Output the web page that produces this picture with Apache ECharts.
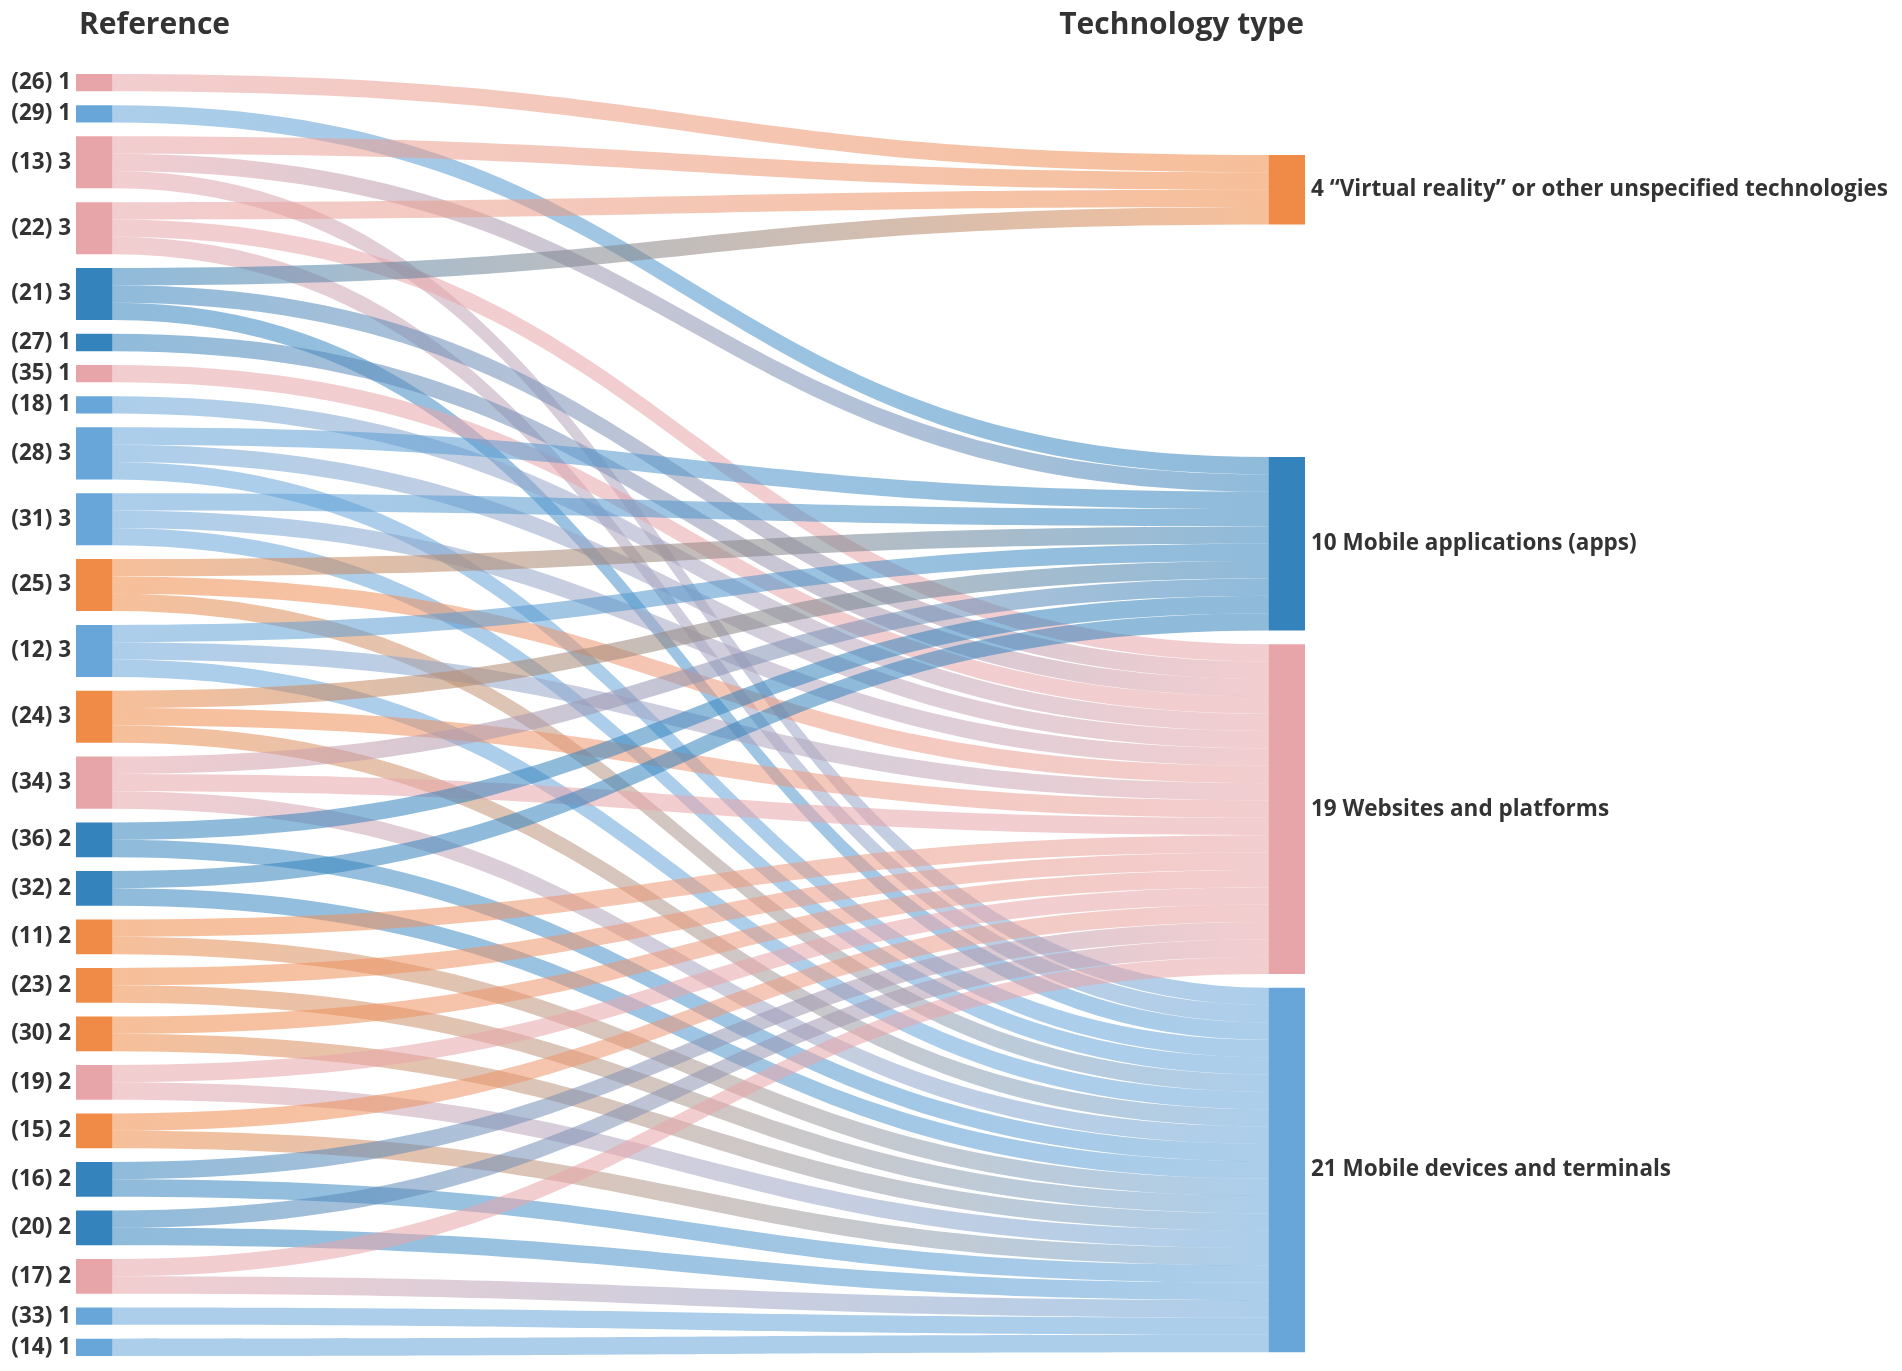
<!DOCTYPE html>
<html>
<head>
<meta charset="utf-8">
<script src="https://cdn.jsdelivr.net/npm/echarts@6/dist/echarts.min.js"></script>
<style>
  html, body { margin: 0; padding: 0; background: #ffffff; }
  #chart { width: 1902px; height: 1371px; }
</style>
</head>
<body>
<div id="chart"></div>
<script>
// ---------- DATA ----------
const referenceIds = ['(26)','(29)','(13)','(22)','(21)','(27)','(35)','(18)','(28)','(31)','(25)','(12)','(24)','(34)','(36)','(32)','(11)','(23)','(30)','(19)','(15)','(16)','(20)','(17)','(33)','(14)'];
// indices into techTypes; each reference contributes 1 to each listed technology type
const referenceTargets = [
  [0], [1], [0,1,3], [0,2,3], [0,2,3], [2], [2], [2],
  [1,2,3], [1,2,3], [1,2,3], [1,2,3], [1,2,3], [1,2,3],
  [1,3], [1,3], [2,3], [2,3], [2,3], [2,3], [2,3], [2,3], [2,3], [2,3],
  [3], [3]
];
const referenceColorGroup = ['pink','lightBlue','pink','pink','darkBlue','darkBlue','pink','lightBlue','lightBlue','lightBlue','orange','lightBlue','orange','pink','darkBlue','darkBlue','orange','orange','orange','pink','orange','darkBlue','darkBlue','pink','lightBlue','lightBlue'];
const techTypes = ['“Virtual reality” or other unspecified technologies','Mobile applications (apps)','Websites and platforms','Mobile devices and terminals'];
const techColorGroup = ['orange','darkBlue','pink','lightBlue'];
const leftTitle = 'Reference';
const rightTitle = 'Technology type';

// ---------- STYLE ----------
const palette = { orange:'#f08b47', darkBlue:'#3483bd', lightBlue:'#68a6da', pink:'#e8a5a9' };
const FONT = '"Open Sans", Roboto, sans-serif';
const TEXT = '#333333';

// layout constants (pixels)
const L = 76, T = 74, R = 1902 - 1305, B = 15, GAP = 13.8, NODE_W = 36.5;
const H = 1371 - T - B;
const totalUnits = referenceTargets.reduce((s, a) => s + a.length, 0);
const ky = (H - (referenceIds.length - 1) * GAP) / totalUnits;
// invisible spacers in the right column to reproduce reference node placement
const vrTopPx = 155, appsTopPx = 457;
const spacerTop = (vrTopPx - T - GAP) / ky;
const techCounts = techTypes.map((_, ti) => referenceTargets.filter(a => a.includes(ti)).length);
const spacerMid = (appsTopPx - GAP - (vrTopPx + techCounts[0] * ky) - GAP) / ky;

const nodes = [];
const links = [];
referenceIds.forEach((id, i) => {
  nodes.push({
    name: id,
    depth: 0,
    itemStyle: { color: palette[referenceColorGroup[i]] },
    label: { position: 'left', distance: 5, formatter: id + ' ' + referenceTargets[i].length }
  });
  referenceTargets[i].forEach(t => links.push({ source: id, target: techTypes[t], value: 1 }));
});
const spacer = (name, v) => ({
  name, depth: 1, value: v,
  itemStyle: { color: 'rgba(0,0,0,0)', opacity: 0 },
  label: { show: false }, tooltip: { show: false }
});
nodes.push(spacer('__spacerTop', spacerTop));
techTypes.forEach((t, ti) => {
  nodes.push({
    name: t,
    depth: 1,
    itemStyle: { color: palette[techColorGroup[ti]] },
    label: { position: 'right', distance: 6, formatter: techCounts[ti] + ' ' + t }
  });
  if (ti === 0) nodes.push(spacer('__spacerMid', spacerMid));
});

const chart = echarts.init(document.getElementById('chart'), null, { renderer: 'canvas' });
chart.setOption({
  animation: false,
  backgroundColor: '#ffffff',
  title: [
    { text: leftTitle, left: 79, top: 10, padding: 0, textStyle: { fontFamily: FONT, fontSize: 30, fontWeight: 'bold', color: TEXT } },
    { text: rightTitle, right: 1902 - 1304, top: 10, padding: 0, textStyle: { fontFamily: FONT, fontSize: 30, fontWeight: 'bold', color: TEXT } }
  ],
  series: [{
    type: 'sankey',
    left: L, top: T, right: R, bottom: B,
    nodeWidth: NODE_W,
    nodeGap: GAP,
    layoutIterations: 0,
    nodeAlign: 'justify',
    draggable: false,
    emphasis: { disabled: true },
    label: { fontFamily: FONT, fontSize: 22.5, fontWeight: 'bold', color: TEXT },
    lineStyle: { color: 'gradient', opacity: 0.55, curveness: 0.5 },
    itemStyle: { borderWidth: 0 },
    data: nodes,
    links: links
  }]
});
</script>
</body>
</html>
